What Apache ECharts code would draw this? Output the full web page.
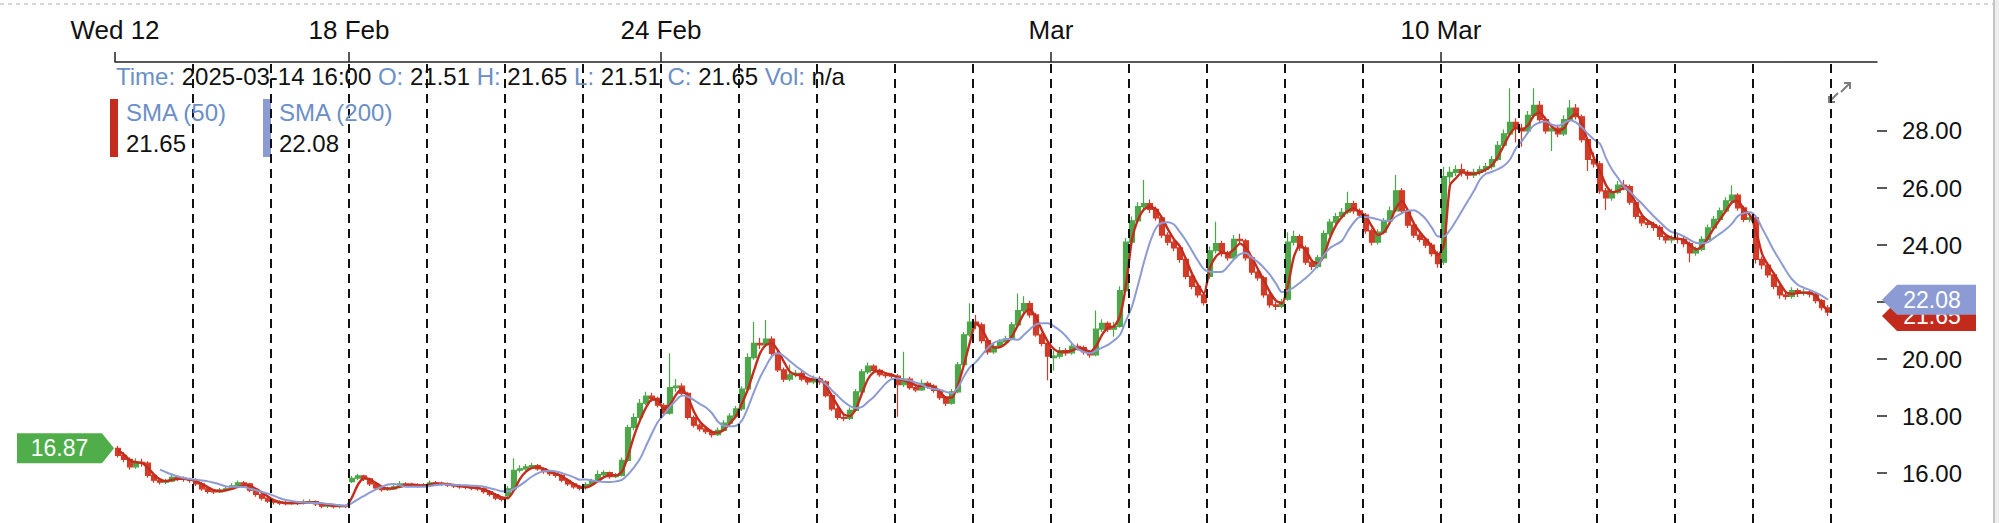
<!DOCTYPE html>
<html>
<head>
<meta charset="utf-8">
<title>Price with SMA (50) / SMA (200)</title>
<script src="https://cdn.jsdelivr.net/npm/echarts@6/dist/echarts.min.js"></script>
<style>
  html, body { margin: 0; padding: 0; background: #fff; }
  #chart { width: 1999px; height: 523px; }
</style>
</head>
<body>
<div id="chart"></div>
<script>
// trading days shown, one row per day, 13 half-hour candles each: [open, close, low, high]
const dayNames = ["Feb 12", "Feb 13", "Feb 14", "Feb 18", "Feb 19", "Feb 20", "Feb 21", "Feb 24", "Feb 25", "Feb 26", "Feb 27",
  "Feb 28", "Mar 3", "Mar 4", "Mar 5", "Mar 6", "Mar 7", "Mar 10", "Mar 11", "Mar 12", "Mar 13", "Mar 14"];

const axisLabelDays = [0, 3, 7, 12, 17];
const axisLabelTexts = ["Wed 12", "18 Feb", "24 Feb", "Mar", "10 Mar"];
const priceTicks = [16, 18, 20, 22, 24, 26, 28];
// 22.00 sits under the last-value tag, so only its tick shows
const priceLabels = [16, 18, 20, 24, 26, 28];

const lastQuote = { time: "2025-03-14 16:00", open: 21.51, high: 21.65, low: 21.51, close: 21.65, vol: "n/a" };

const candles = [
  [[16.87,16.62,16.55,16.95],[16.62,16.48,16.38,16.74],[16.48,16.22,16.12,16.55],[16.22,16.38,16.15,16.52],[16.38,16.35,16.22,16.50],[16.35,15.92,15.84,16.42],[15.92,15.75,15.66,16.00],[15.75,15.68,15.60,15.82],[15.68,15.72,15.62,15.80],[15.72,15.85,15.68,15.94],[15.85,15.82,15.72,15.92],[15.82,15.78,15.70,15.88],[15.78,15.74,15.66,15.84]],
  [[15.74,15.62,15.55,15.82],[15.62,15.45,15.38,15.68],[15.45,15.36,15.28,15.52],[15.36,15.34,15.27,15.44],[15.34,15.40,15.30,15.48],[15.40,15.45,15.35,15.53],[15.45,15.55,15.41,15.64],[15.55,15.66,15.50,15.74],[15.66,15.62,15.54,15.72],[15.62,15.40,15.33,15.66],[15.40,15.25,15.17,15.45],[15.25,15.12,15.04,15.30],[15.12,15.02,14.95,15.18]],
  [[15.02,14.98,14.90,15.08],[14.98,14.95,14.88,15.04],[14.95,14.93,14.87,15.01],[14.93,14.96,14.88,15.03],[14.96,14.94,14.88,15.02],[14.94,14.98,14.90,15.07],[14.98,15.00,14.92,15.08],[15.00,14.92,14.85,15.04],[14.92,14.84,14.77,14.96],[14.84,14.86,14.78,14.92],[14.86,14.82,14.76,14.90],[14.82,14.85,14.77,14.91],[14.85,14.84,14.78,14.90]],
  [[15.70,15.82,15.65,15.90],[15.82,15.90,15.76,15.98],[15.90,15.80,15.72,15.94],[15.80,15.62,15.55,15.84],[15.62,15.48,15.41,15.66],[15.48,15.42,15.35,15.52],[15.42,15.45,15.37,15.52],[15.45,15.52,15.41,15.60],[15.52,15.62,15.48,15.72],[15.62,15.60,15.53,15.68],[15.60,15.58,15.51,15.66],[15.58,15.56,15.49,15.64],[15.56,15.58,15.50,15.65]],
  [[15.60,15.66,15.55,15.74],[15.66,15.64,15.57,15.72],[15.64,15.62,15.55,15.70],[15.62,15.58,15.51,15.67],[15.58,15.55,15.48,15.63],[15.55,15.52,15.45,15.60],[15.52,15.50,15.43,15.58],[15.50,15.47,15.40,15.55],[15.47,15.45,15.38,15.53],[15.45,15.35,15.28,15.50],[15.35,15.25,15.18,15.40],[15.25,15.12,15.05,15.30],[15.12,15.08,15.00,15.18]],
  [[15.20,15.45,15.15,15.55],[15.45,16.10,15.40,16.52],[16.10,16.15,16.02,16.28],[16.15,16.22,16.08,16.32],[16.22,16.26,16.15,16.36],[16.26,16.15,16.08,16.32],[16.15,16.05,15.98,16.20],[16.05,15.98,15.90,16.10],[15.98,15.92,15.84,16.04],[15.92,15.75,15.68,15.96],[15.75,15.62,15.55,15.80],[15.62,15.52,15.45,15.66],[15.52,15.46,15.39,15.58]],
  [[15.50,15.60,15.42,15.68],[15.60,15.72,15.55,15.80],[15.72,15.95,15.68,16.10],[15.95,16.02,15.88,16.10],[16.02,15.88,15.80,16.06],[15.88,15.92,15.82,16.00],[15.92,16.45,15.88,16.55],[16.45,17.60,16.40,17.70],[17.60,17.95,17.50,18.10],[17.95,18.45,17.88,18.60],[18.45,18.70,18.38,18.85],[18.70,18.62,18.50,18.82],[18.62,18.38,18.30,18.68]],
  [[18.38,18.10,18.00,18.45],[18.10,19.00,18.05,20.20],[19.00,19.05,18.85,19.30],[19.05,18.80,18.70,19.15],[18.80,17.95,17.88,18.85],[17.95,17.68,17.60,18.02],[17.68,17.55,17.46,17.74],[17.55,17.45,17.37,17.62],[17.45,17.35,17.25,17.52],[17.35,17.50,17.30,17.60],[17.50,17.75,17.45,17.85],[17.75,18.00,17.70,18.10],[18.00,18.25,17.95,18.35]],
  [[18.25,18.95,18.18,19.05],[18.95,20.05,18.90,20.20],[20.05,20.55,19.98,21.30],[20.55,20.50,20.35,20.75],[20.50,20.70,20.42,21.37],[20.70,20.20,20.12,20.80],[20.20,19.62,19.55,20.28],[19.62,19.30,19.20,19.70],[19.30,19.45,19.22,19.80],[19.45,19.50,19.35,19.62],[19.50,19.30,19.22,19.58],[19.30,19.20,19.10,19.38],[19.20,19.30,19.12,19.42]],
  [[19.30,19.20,19.10,19.40],[19.20,18.72,18.65,19.26],[18.72,18.25,18.18,18.80],[18.25,17.95,17.86,18.32],[17.95,17.92,17.82,18.05],[17.92,18.20,17.86,18.30],[18.20,18.85,18.15,18.95],[18.85,19.55,18.80,19.65],[19.55,19.75,19.48,19.88],[19.75,19.60,19.50,19.82],[19.60,19.45,19.38,19.66],[19.45,19.42,19.33,19.55],[19.42,19.40,19.32,19.50]],
  [[19.40,19.10,17.98,19.48],[19.10,19.30,19.02,20.26],[19.30,19.00,18.92,19.38],[19.00,18.92,18.84,19.10],[18.92,19.15,18.88,19.28],[19.15,19.05,18.96,19.22],[19.05,18.90,18.82,19.12],[18.90,18.65,18.56,18.96],[18.65,18.45,18.35,18.70],[18.45,18.85,18.40,18.95],[18.85,19.80,18.80,19.90],[19.80,20.85,19.75,20.95],[20.85,21.30,20.78,21.96]],
  [[21.30,21.20,21.05,21.55],[21.20,20.65,20.55,21.28],[20.65,20.25,20.15,20.72],[20.25,20.45,20.18,20.55],[20.45,20.60,20.38,20.70],[20.60,20.70,20.52,20.82],[20.70,21.20,20.65,21.30],[21.20,21.70,21.15,22.30],[21.70,21.95,21.62,22.20],[21.95,21.55,21.45,22.05],[21.55,20.85,20.78,21.62],[20.85,20.55,20.45,20.92],[20.55,20.10,19.26,20.62]],
  [[20.05,20.10,19.60,20.30],[20.10,20.30,20.02,20.42],[20.30,20.22,20.12,20.38],[20.22,20.45,20.15,20.55],[20.45,20.40,20.30,20.55],[20.40,20.25,20.15,20.48],[20.25,20.15,20.05,20.32],[20.15,21.05,20.10,21.70],[21.05,21.25,20.95,21.40],[21.25,21.05,20.95,21.32],[21.05,21.15,20.78,21.30],[21.15,22.40,21.10,22.55],[22.40,24.10,22.35,24.25]],
  [[24.10,24.85,24.05,25.00],[24.85,25.35,24.78,25.50],[25.35,25.45,25.20,26.28],[25.45,25.25,25.12,25.60],[25.25,24.95,24.85,25.35],[24.95,24.35,24.25,25.02],[24.35,24.10,23.98,24.45],[24.10,23.90,23.78,24.20],[23.90,23.50,23.38,24.00],[23.50,22.90,22.80,23.58],[22.90,22.55,22.45,23.00],[22.55,22.25,22.15,22.62],[22.25,21.98,21.88,22.32]],
  [[22.90,23.80,22.80,23.95],[23.80,24.05,23.70,24.82],[24.05,23.70,23.60,24.15],[23.70,23.55,23.45,23.80],[23.55,24.20,23.50,24.35],[24.20,24.15,24.02,24.40],[24.15,23.55,23.45,24.22],[23.55,23.05,22.95,23.62],[23.05,22.85,22.75,23.15],[22.85,22.25,22.15,22.92],[22.25,21.90,21.80,22.32],[21.90,21.85,21.72,22.00],[21.85,22.00,21.78,22.12]],
  [[22.10,24.10,22.05,24.45],[24.10,24.30,23.98,24.50],[24.30,23.90,23.80,24.38],[23.90,23.40,23.30,23.98],[23.40,23.25,23.12,23.50],[23.25,23.55,23.18,23.65],[23.55,24.40,23.50,24.52],[24.40,24.80,24.32,24.92],[24.80,25.00,24.72,25.12],[25.00,25.15,24.92,25.30],[25.15,25.45,25.08,25.87],[25.45,25.20,25.10,25.55],[25.20,25.05,24.95,25.28]],
  [[25.05,24.50,24.40,25.12],[24.50,24.10,23.98,24.58],[24.10,24.45,24.02,24.55],[24.45,24.85,24.38,24.95],[24.85,25.20,24.78,25.35],[25.20,25.90,25.15,26.46],[25.90,25.20,25.10,26.00],[25.20,24.70,24.60,25.28],[24.70,24.35,24.25,24.78],[24.35,24.20,24.10,24.45],[24.20,24.00,23.90,24.28],[24.00,23.70,23.60,24.08],[23.70,23.35,23.20,23.78]],
  [[23.40,26.40,23.30,26.75],[26.40,26.55,26.15,26.75],[26.55,26.65,26.42,26.80],[26.65,26.55,26.40,26.85],[26.55,26.45,26.30,26.62],[26.45,26.55,26.35,26.68],[26.55,26.65,26.45,26.78],[26.65,26.75,26.55,26.88],[26.75,27.00,26.65,27.12],[27.00,27.50,26.95,27.65],[27.50,27.90,27.42,28.05],[27.90,28.30,27.82,29.50],[28.30,28.10,27.60,28.45]],
  [[28.10,28.00,27.45,28.25],[28.00,28.55,27.92,28.70],[28.55,28.90,28.45,29.50],[28.90,28.40,28.30,29.05],[28.40,28.00,27.90,28.50],[28.00,28.10,27.30,28.25],[28.10,27.90,27.78,28.22],[27.90,28.40,27.82,28.55],[28.40,28.80,28.32,29.09],[28.80,28.50,28.40,28.95],[28.50,27.70,27.60,28.58],[27.70,27.00,26.60,27.78],[27.00,26.85,26.72,27.25]],
  [[26.85,25.90,25.80,26.95],[25.90,25.65,25.23,26.00],[25.65,25.85,25.55,25.98],[25.85,26.10,25.78,26.25],[26.10,26.05,25.92,26.28],[26.05,25.50,25.40,26.12],[25.50,25.00,24.90,25.58],[25.00,24.78,24.66,25.10],[24.78,24.72,24.60,24.88],[24.72,24.62,24.50,24.82],[24.62,24.30,24.18,24.70],[24.30,24.18,24.05,24.38],[24.18,24.22,24.06,24.34]],
  [[24.22,24.20,24.05,24.40],[24.20,24.05,23.92,24.30],[24.05,23.72,23.40,24.12],[23.72,23.85,23.62,23.95],[23.85,24.20,23.78,24.32],[24.20,24.60,24.12,24.72],[24.60,24.90,24.52,25.02],[24.90,25.20,24.82,25.32],[25.20,25.55,25.12,25.68],[25.55,25.75,25.45,26.10],[25.75,25.30,25.20,25.82],[25.30,24.90,24.80,25.38],[24.90,24.95,24.80,25.15]],
  [[24.95,23.50,23.35,25.00],[23.50,23.30,23.15,23.60],[23.30,22.95,22.85,23.40],[22.95,22.55,22.45,23.02],[22.55,22.25,22.12,22.62],[22.25,22.20,22.08,22.32],[22.20,22.40,22.12,22.52],[22.40,22.30,22.18,22.48],[22.30,22.35,22.22,22.46],[22.35,22.28,22.16,22.42],[22.28,22.05,21.95,22.35],[22.05,21.80,21.70,22.12],[21.80,21.65,21.51,21.90]]
];

const sma50 = [
  [16.80,16.65,16.45,16.38,16.36,16.18,15.95,15.78,15.72,15.76,15.80,15.80,15.77],
  [15.72,15.62,15.50,15.40,15.37,15.40,15.45,15.52,15.58,15.55,15.45,15.32,15.18],
  [15.05,14.98,14.95,14.95,14.95,14.96,14.98,14.97,14.92,14.88,14.85,14.85,14.84],
  [15.15,15.60,15.82,15.78,15.65,15.52,15.46,15.47,15.52,15.57,15.60,15.58,15.57],
  [15.60,15.63,15.63,15.61,15.58,15.55,15.52,15.50,15.48,15.42,15.34,15.24,15.15],
  [15.12,15.40,15.80,16.05,16.18,16.20,16.15,16.06,15.98,15.88,15.75,15.62,15.52],
  [15.50,15.58,15.72,15.86,15.93,15.92,16.05,16.60,17.30,17.85,18.30,18.58,18.55],
  [18.25,18.40,18.75,18.95,18.65,18.15,17.80,17.60,17.45,17.42,17.52,17.75,18.00],
  [18.45,18.95,19.60,20.20,20.50,20.55,20.30,19.90,19.55,19.45,19.42,19.32,19.28],
  [19.30,19.05,18.70,18.35,18.05,18.00,18.25,18.80,19.30,19.55,19.58,19.50,19.45],
  [19.35,19.25,19.18,19.08,19.05,19.08,19.02,18.85,18.65,18.65,19.10,19.80,20.60],
  [21.25,21.05,20.65,20.40,20.42,20.55,20.80,21.20,21.60,21.75,21.45,21.00,20.60],
  [20.35,20.25,20.25,20.30,20.38,20.35,20.25,20.45,20.85,21.10,21.15,21.50,22.60],
  [24.20,24.90,25.25,25.35,25.25,24.95,24.55,24.20,23.95,23.50,23.00,22.60,22.30],
  [23.20,23.60,23.75,23.70,23.85,24.05,23.90,23.55,23.15,22.75,22.35,22.05,21.95],
  [22.60,23.60,24.00,23.80,23.45,23.35,23.65,24.25,24.70,24.98,25.20,25.28,25.15],
  [25.00,24.65,24.35,24.45,24.80,25.30,25.55,25.20,24.75,24.45,24.20,23.95,23.65],
  [24.00,26.10,26.35,26.55,26.52,26.50,26.55,26.65,26.80,27.10,27.50,27.90,28.10],
  [28.05,28.20,28.55,28.65,28.40,28.15,28.00,28.10,28.45,28.60,28.25,27.60,27.05],
  [26.60,26.10,25.85,25.90,26.00,25.85,25.45,25.05,24.85,24.72,24.55,24.35,24.25],
  [24.22,24.18,24.00,23.85,23.95,24.25,24.60,24.90,25.20,25.50,25.55,25.25,25.05],
  [24.50,23.70,23.30,23.00,22.65,22.35,22.28,22.32,22.33,22.32,22.20,21.95,21.65]
];

const sma200 = [
  [null,null,null,null,null,null,null,16.12,16.03,15.95,15.88,15.83,15.79],
  [15.77,15.74,15.71,15.66,15.60,15.53,15.52,15.52,15.51,15.45,15.40,15.34,15.28],
  [15.20,15.12,15.06,15.02,14.99,14.97,14.96,14.95,14.94,14.92,14.90,14.87,14.85],
  [14.95,15.08,15.20,15.32,15.43,15.52,15.60,15.62,15.57,15.52,15.52,15.52,15.52],
  [15.55,15.58,15.60,15.60,15.59,15.58,15.57,15.56,15.55,15.52,15.47,15.42,15.36],
  [15.36,15.45,15.57,15.72,15.88,16.00,16.07,16.08,16.06,16.00,15.93,15.85,15.77],
  [15.78,15.74,15.71,15.69,15.69,15.71,15.76,15.95,16.20,16.50,16.95,17.40,17.80],
  [18.05,18.33,18.55,18.72,18.68,18.56,18.42,18.30,18.10,17.80,17.66,17.64,17.66],
  [17.85,18.30,18.85,19.35,19.75,20.10,20.20,20.10,19.92,19.75,19.60,19.45,19.35],
  [19.27,19.12,18.90,18.70,18.50,18.35,18.28,18.32,18.50,18.68,18.92,19.15,19.30],
  [19.32,19.28,19.25,19.17,19.10,19.00,18.95,18.92,18.85,18.80,19.00,19.40,19.72],
  [19.90,20.15,20.40,20.58,20.65,20.70,20.70,20.68,20.85,21.05,21.22,21.26,21.26],
  [21.15,21.00,20.80,20.55,20.35,20.25,20.20,20.30,20.40,20.50,20.65,20.85,21.35],
  [21.85,22.60,23.40,24.10,24.60,24.78,24.80,24.72,24.45,24.15,23.80,23.45,23.15],
  [23.06,23.05,23.06,23.25,23.50,23.68,23.72,23.55,23.40,23.20,22.95,22.65,22.35],
  [22.40,22.52,22.68,22.85,23.05,23.30,23.65,23.90,24.02,24.15,24.50,24.80,24.98],
  [24.98,24.95,24.90,24.85,24.85,25.00,25.12,25.20,25.22,25.10,24.90,24.60,24.30],
  [24.30,24.53,24.85,25.20,25.55,25.90,26.30,26.50,26.57,26.66,26.78,27.00,27.40],
  [27.65,27.95,28.20,28.30,28.33,28.22,28.18,28.28,28.38,28.30,28.12,27.90,27.70],
  [27.55,27.05,26.65,26.35,26.05,25.88,25.65,25.45,25.22,25.00,24.80,24.60,24.45],
  [24.40,24.30,24.18,24.08,24.06,24.10,24.25,24.40,24.55,24.75,25.02,25.12,25.15],
  [25.00,24.60,24.20,23.80,23.45,23.10,22.80,22.60,22.50,22.42,22.33,22.22,22.08]
];

const FONT = "'Liberation Sans', Arial, Helvetica, sans-serif";
const UP = "#4da64a";
const DOWN = "#d23b27";
const SMA50_COLOR = "#c42d1e";
const SMA200_COLOR = "#8c9bd3";
const KEY_COLOR = "#6b8fc6";

// x axis counts 5-minute slots: 78 per session, a half-hour candle spans 6
const SLOTS_PER_DAY = 78;
const SLOTS_PER_BAR = 6;
const X_MAX = 1762;

function barX(day, bar) {
  return day * SLOTS_PER_DAY + bar * SLOTS_PER_BAR + SLOTS_PER_BAR / 2;
}

const candleData = [];
candles.forEach((day, d) => day.forEach((c, j) => candleData.push([barX(d, j), c[0], c[1], c[2], c[3]])));

function lineData(rows) {
  const out = [];
  rows.forEach((day, d) => day.forEach((v, j) => {
    if (v != null) out.push([barX(d, j), v]);
  }));
  return out;
}

const dayBounds = dayNames.map((_, d) => (d + 1) * SLOTS_PER_DAY);
const labelValues = axisLabelDays.map((d) => d * SLOTS_PER_DAY);
const labelByValue = {};
labelValues.forEach((v, i) => { labelByValue[v] = axisLabelTexts[i]; });

const lastSma50 = sma50[sma50.length - 1].slice(-1)[0];
const lastSma200 = sma200[sma200.length - 1].slice(-1)[0];
const firstOpen = candles[0][0][0];

function tagSeries(value, x, color, path, size, offset, labelOffset, z) {
  return {
    type: "scatter",
    clip: false,
    silent: true,
    z,
    symbol: path,
    symbolSize: size,
    symbolOffset: offset,
    itemStyle: { color, opacity: 1 },
    label: {
      show: true,
      position: "inside",
      offset: labelOffset,
      formatter: value.toFixed(2),
      color: "#fff",
      fontSize: 23,
      fontFamily: FONT
    },
    data: [[x, value]]
  };
}

const leftTagPath = "path://M0,0 L85,0 L97,15 L85,30 L0,30 Z";
const rightTagPath = "path://M0,15 L15,0 L94,0 L94,30 L15,30 Z";

const chart = echarts.init(document.getElementById("chart"), null, { renderer: "svg" });

chart.setOption({
  animation: false,
  backgroundColor: "#fff",
  textStyle: { fontFamily: FONT },
  grid: { left: 115, right: 122, top: 62, bottom: 0, containLabel: false },
  title: [
    {
      left: 116,
      top: 63,
      padding: 0,
      text: `{k|Time:} {v|${lastQuote.time}} {k|O:} {v|${lastQuote.open.toFixed(2)}} {k|H:} {v|${lastQuote.high.toFixed(2)}} ` +
        `{k|L:} {v|${lastQuote.low.toFixed(2)}} {k|C:} {v|${lastQuote.close.toFixed(2)}} {k|Vol:} {v|${lastQuote.vol}}`,
      textStyle: {
        fontSize: 24,
        fontWeight: "normal",
        lineHeight: 26,
        rich: {
          k: { color: KEY_COLOR, fontSize: 24, fontFamily: FONT, lineHeight: 26 },
          v: { color: "#111", fontSize: 24, fontFamily: FONT, lineHeight: 26 }
        }
      }
    },
    {
      left: 126,
      top: 97,
      padding: 0,
      text: `{k|SMA (50)}\n{v|${lastSma50.toFixed(2)}}`,
      textStyle: {
        fontWeight: "normal",
        rich: {
          k: { color: KEY_COLOR, fontSize: 24, fontFamily: FONT, lineHeight: 31 },
          v: { color: "#111", fontSize: 24, fontFamily: FONT, lineHeight: 31 }
        }
      }
    },
    {
      left: 279,
      top: 97,
      padding: 0,
      text: `{k|SMA (200)}\n{v|${lastSma200.toFixed(2)}}`,
      textStyle: {
        fontWeight: "normal",
        rich: {
          k: { color: KEY_COLOR, fontSize: 24, fontFamily: FONT, lineHeight: 31 },
          v: { color: "#111", fontSize: 24, fontFamily: FONT, lineHeight: 31 }
        }
      }
    }
  ],
  graphic: [
    { type: "line", silent: true, shape: { x1: 0, y1: 4, x2: 1999, y2: 4 }, style: { stroke: "#c8c8c8", lineWidth: 1.5, lineDash: [4, 4] } },
    { type: "rect", silent: true, shape: { x: 1995, y: 0, width: 4, height: 523 }, style: { fill: "#eeeeee" } },
    { type: "line", silent: true, shape: { x1: 1994, y1: 0, x2: 1994, y2: 523 }, style: { stroke: "#c4c4c4", lineWidth: 2 } },
    { type: "rect", silent: true, shape: { x: 110, y: 99, width: 8, height: 58 }, style: { fill: SMA50_COLOR } },
    { type: "rect", silent: true, shape: { x: 263, y: 99, width: 8, height: 58 }, style: { fill: SMA200_COLOR } },
    { type: "line", silent: true, shape: { x1: 1841, y1: 92, x2: 1850, y2: 83 }, style: { stroke: "#7d7d7d", lineWidth: 2 } },
    { type: "polyline", silent: true, shape: { points: [[1844, 83], [1850, 83], [1850, 89]] }, style: { stroke: "#7d7d7d", lineWidth: 2, fill: null } },
    { type: "line", silent: true, shape: { x1: 1838, y1: 93, x2: 1829, y2: 102 }, style: { stroke: "#7d7d7d", lineWidth: 2 } },
    { type: "polyline", silent: true, shape: { points: [[1829, 96], [1829, 102], [1835, 102]] }, style: { stroke: "#7d7d7d", lineWidth: 2, fill: null } }
  ],
  xAxis: {
    type: "value",
    position: "top",
    min: 0,
    max: X_MAX,
    axisLine: { show: true, onZero: false, lineStyle: { color: "#222", width: 1.5 } },
    axisTick: { show: true, customValues: labelValues, length: 10, lineStyle: { color: "#222", width: 1.5 } },
    axisLabel: {
      customValues: labelValues,
      formatter: (v) => labelByValue[v] || "",
      margin: 19,
      fontSize: 26,
      color: "#111",
      fontFamily: FONT
    },
    splitLine: { show: false }
  },
  yAxis: {
    type: "value",
    position: "right",
    min: 14.25,
    max: 30.42,
    axisLine: { show: false, onZero: false },
    axisTick: { show: true, customValues: priceTicks, length: 10, lineStyle: { color: "#222", width: 1.5 } },
    axisLabel: {
      customValues: priceLabels,
      formatter: (v) => v.toFixed(2),
      margin: 25,
      fontSize: 24,
      color: "#111",
      fontFamily: FONT
    },
    splitLine: { show: false }
  },
  series: [
    {
      type: "candlestick",
      name: "Price",
      data: candleData,
      encode: { x: 0, y: [1, 2, 3, 4] },
      barWidth: 5,
      itemStyle: {
        color: UP,
        color0: DOWN,
        borderColor: UP,
        borderColor0: DOWN,
        borderWidth: 1.2
      },
      markLine: {
        silent: true,
        symbol: ["none", "none"],
        label: { show: false },
        lineStyle: { type: [9, 6], color: "#111", width: 2 },
        data: dayBounds.map((v) => ({ xAxis: v }))
      }
    },
    {
      type: "line",
      name: "SMA (50)",
      data: lineData(sma50),
      showSymbol: false,
      smooth: 0.2,
      z: 3,
      lineStyle: { color: SMA50_COLOR, width: 2.4 }
    },
    {
      type: "line",
      name: "SMA (200)",
      data: lineData(sma200),
      showSymbol: false,
      smooth: 0.3,
      z: 4,
      lineStyle: { color: SMA200_COLOR, width: 2 }
    },
    tagSeries(lastSma50, X_MAX + 5, "#c22a1b", rightTagPath, [94, 30], [47, 4], [3, 0], 5),
    tagSeries(lastSma200, X_MAX + 5, SMA200_COLOR, rightTagPath, [94, 30], [47, 0], [3, 0], 6),
    tagSeries(firstOpen, -1, "#4fae4a", leftTagPath, [97, 30], [-48.5, 0], [-6, 0], 6)
  ]
});
</script>
</body>
</html>
